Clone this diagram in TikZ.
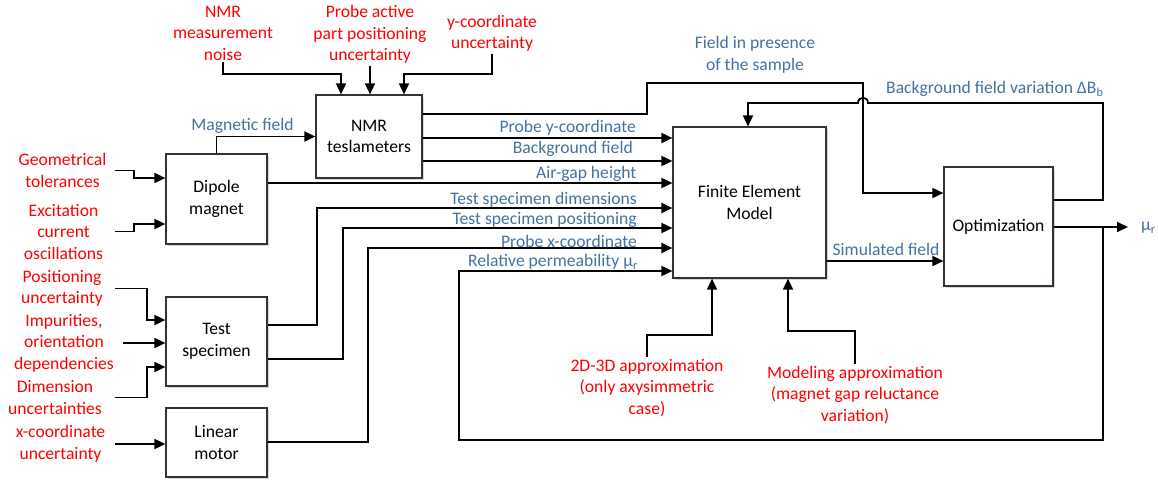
\documentclass[tikz,border=0pt]{standalone}
\usepackage{fontspec}
\setmainfont{Carlito}
\usepackage{tikz}
\usetikzlibrary{arrows.meta,shadows}
\definecolor{lblblue}{RGB}{68,114,160}

\begin{document}
\begin{tikzpicture}[x=1pt, y=-1pt,
        font=\fontsize{17.6}{21.5}\selectfont,
        block/.style={draw=black!80, line width=1.2pt, fill=white, align=center, inner sep=0pt,
            drop shadow={shadow xshift=1.5pt, shadow yshift=-1.5pt, fill=blue!30!gray, opacity=0.25}},
        src/.style={text=red, align=center, inner sep=2pt},
        lbl/.style={text=lblblue, inner sep=0pt},
        wire/.style={line width=1.8pt},
        conn/.style={wire, -{Triangle[length=11pt, width=10pt]}}]
    \useasboundingbox (0,0) rectangle (1158,480);

    \node[block, minimum width=106, minimum height=83] (nmr) at (369,136.5) {NMR\\teslameters};
    \node[block, minimum width=101, minimum height=90] (dipole) at (216.5,199) {Dipole\\magnet};
    \node[block, minimum width=101, minimum height=89] (spec) at (216.5,341.5) {Test\\specimen};
    \node[block, minimum width=101, minimum height=69] (motor) at (216.5,442.5) {Linear\\motor};
    \node[block, minimum width=153, minimum height=151] (fem) at (749.5,202.5) {Finite Element\\Model};
    \node[block, minimum width=109, minimum height=119] (opt) at (998.5,226.5) {Optimization};

    \node[src] (noise) at (223,33) {NMR\\measurement\\noise};
    \node[src] (probe) at (370,34.5) {Probe active\\part positioning\\uncertainty};
    \node[src] (ycoord) at (492,33.5) {y-coordinate\\uncertainty};
    \node[src] (geo) at (62.5,170.5) {Geometrical\\tolerances};
    \node[src] (exc) at (63.5,231.5) {Excitation\\current\\oscillations};
    \node[src] (posunc) at (62,288.5) {Positioning\\uncertainty};
    \node[src] (imp) at (64,343) {Impurities,\\orientation\\dependencies};
    \node[src] (dim) at (55,397.5) {Dimension\\uncertainties};
    \node[src] (xunc) at (60.5,444) {x-coordinate\\uncertainty};
    \node[src] (twod) at (647,388) {2D-3D approximation\\(only axysimmetric\\case)};
    \node[src] (model) at (855,395) {Modeling approximation\\(magnet gap reluctance\\variation)};

    \node[lbl] (lmag) at (242.5,126) {Magnetic field};
    \node[lbl, align=center] (lpres) at (755,55) {Field in presence\\of the sample};
    \node[lbl, anchor=east] (lpy) at (636,127.5) {Probe y-coordinate};
    \node[lbl, anchor=east] (lbg) at (633,149) {Background field};
    \node[lbl, anchor=east] (lair) at (636.5,174) {Air-gap height};
    \node[lbl, anchor=east] (ldim) at (637,200) {Test specimen dimensions};
    \node[lbl, anchor=east] (lpos) at (637,220) {Test specimen positioning};
    \node[lbl, anchor=east] (lpx) at (637,241) {Probe x-coordinate};
    \node[lbl, anchor=east] (lmu) at (638,262) {Relative permeability μ\textsubscript{r}};
    \node[lbl] (lsim) at (886,249) {Simulated field};
    \node[lbl, anchor=west] (ldb) at (886,89) {Background field variation ΔB\textsubscript{b}};
    \node[lbl, anchor=west] (mur) at (1141,228) {μ\textsubscript{r}};

    \coordinate (split) at (1103,227);
    \coordinate (muend) at (1128,227);

    \draw[conn] (noise.south) |- (341,74) -- (nmr.north -| 341,0);
    \draw[conn] (probe.south) -- (probe.south |- nmr.north);
    \draw[conn] (ycoord.south) |- (404,74) -- (nmr.north -| 404,0);
    \draw[conn] (dipole.north) |- (nmr.west);

    \draw[conn] (geo.east -| 115,0) -| (134,178) -- (dipole.west |- 0,178);
    \draw[conn] (exc.east -| 115,0) -| (134,224) -- (dipole.west |- 0,224);
    \draw[conn] (posunc.east -| 115,0) -| (147,320) -- (spec.west |- 0,320);
    \draw[conn] (imp.east -| 123,0) -- (imp.east -| spec.west);
    \draw[conn] (dim.east -| 115,0) -| (147,367) -- (spec.west |- 0,367);
    \draw[conn] (xunc.east -| 115,0) -- (xunc.east -| motor.west);

    \draw[conn] (nmr.east |- 0,114) -| (647,83) -| (863,193) -- (opt.west |- 0,193);
    \draw[conn] (nmr.east |- 0,138) -- (fem.west |- 0,138);
    \draw[conn] (nmr.east |- 0,161) -- (fem.west |- 0,161);
    \draw[conn] (dipole.east |- 0,183) -- (fem.west |- 0,183);
    \draw[conn] (spec.east |- 0,325) -| (317,208) -- (fem.west |- 0,208);
    \draw[conn] (spec.east |- 0,359) -| (343,228) -- (fem.west |- 0,228);
    \draw[conn] (motor.east |- 0,442) -| (368,248) -- (fem.west |- 0,248);

    \draw[conn] (opt.east |- 0,200) -| (1103,103) -- (868,103) .. controls (868,96) and (858,96) .. (858,103) -| (fem.north -| 748,0);
    \draw[conn] (fem.east |- 0,261) -- (opt.west |- 0,261);
    \draw[conn] (opt.east |- muend) -- (muend);
    \draw[conn] (split) |- (459,440) |- (fem.west |- 0,271);

    \draw[conn] (twod.north) |- (712,335) -- (fem.south -| 712,0);
    \draw[conn] (model.north) |- (788,331) -- (fem.south -| 788,0);
\end{tikzpicture}
\end{document}
